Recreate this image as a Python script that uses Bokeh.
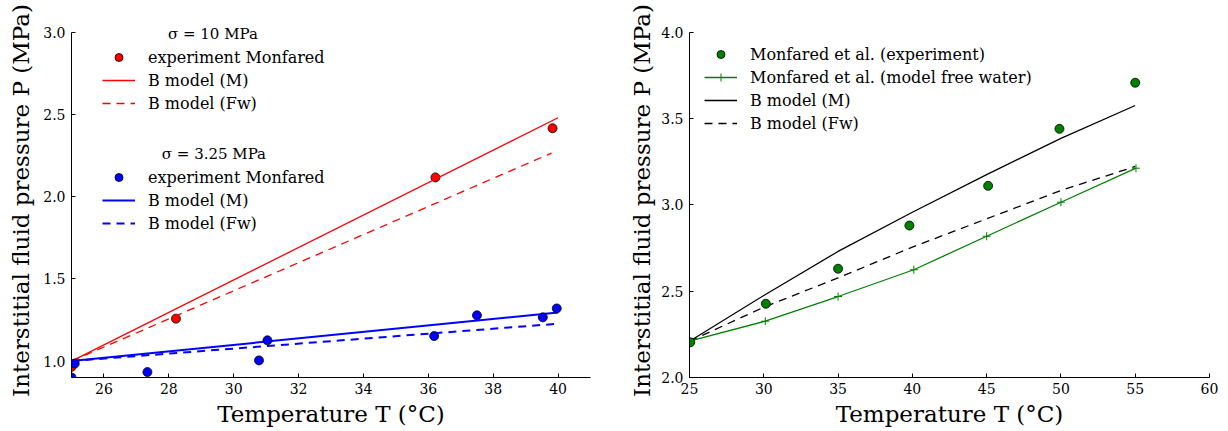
from bokeh.plotting import figure
from bokeh.layouts import row
from bokeh.models import Legend, LegendItem, FixedTicker, NumeralTickFormatter, Label, Range1d
from bokeh.embed import file_html
from bokeh.resources import INLINE

FONT = "DejaVu Serif"

# ---------- left panel data ----------
red_exp_T = [25.0, 28.22, 36.22, 39.83]
red_exp_P = [0.965, 1.258, 2.117, 2.416]
red_M_T = [25.0, 40.0]
red_M_P = [1.0, 2.48]
red_Fw_T = [25.0, 39.8]
red_Fw_P = [1.0, 2.265]

blue_exp_T = [25.0, 25.1, 27.34, 30.78, 31.04, 36.18, 37.5, 39.53, 39.96]
blue_exp_P = [0.90, 0.985, 0.933, 1.004, 1.126, 1.152, 1.278, 1.266, 1.32]
blue_M_T = [25.0, 40.0]
blue_M_P = [1.0, 1.295]
blue_Fw_T = [25.0, 40.0]
blue_Fw_P = [1.0, 1.227]

left_xticks = [26, 28, 30, 32, 34, 36, 38, 40]
left_yticks = [1.0, 1.5, 2.0, 2.5, 3.0]

# ---------- right panel data ----------
g_exp_T = [25.05, 30.14, 35.0, 39.8, 45.1, 49.9, 55.0]
g_exp_P = [2.204, 2.427, 2.63, 2.88, 3.11, 3.44, 3.707]
g_mod_T = [25.0, 30.1, 35.0, 40.1, 45.0, 50.0, 55.05]
g_mod_P = [2.21, 2.326, 2.469, 2.624, 2.818, 3.015, 3.212]
bM_T = [25, 30, 35, 40, 45, 50, 55]
bM_P = [2.21, 2.475, 2.73, 2.957, 3.175, 3.385, 3.575]
bFw_T = [25, 30, 35, 40, 45, 50, 55]
bFw_P = [2.21, 2.407, 2.577, 2.755, 2.919, 3.083, 3.222]

right_xticks = [25, 30, 35, 40, 45, 50, 55, 60]
right_yticks = [2.0, 2.5, 3.0, 3.5, 4.0]

XLABEL = "Temperature T (°C)"
YLABEL = "Interstitial fluid pressure P (MPa)"
DASH = "8 6"


def style(p, xticks, yticks, ylabel_standoff, ybounds):
    p.outline_line_color = None
    p.xgrid.visible = False
    p.ygrid.visible = False
    p.background_fill_color = "white"
    p.border_fill_color = "white"
    for ax in (p.xaxis[0], p.yaxis[0]):
        ax.axis_line_color = "black"
        ax.axis_line_width = 1
        ax.major_tick_in = 4
        ax.major_tick_out = 0
        ax.minor_tick_line_color = None
        ax.major_tick_line_color = "black"
        ax.major_label_text_font = FONT
        ax.major_label_text_font_size = "14px"
        ax.major_label_text_color = "black"
        ax.axis_label_text_font = FONT
        ax.axis_label_text_font_size = "23px"
        ax.axis_label_text_font_style = "normal"
        ax.axis_label_text_color = "black"
        ax.major_label_standoff = 6
    p.xaxis.ticker = FixedTicker(ticks=xticks)
    p.yaxis.ticker = FixedTicker(ticks=yticks)
    p.yaxis.formatter = NumeralTickFormatter(format="0.0")
    p.yaxis.bounds = ybounds
    p.xaxis.axis_label = XLABEL
    p.yaxis.axis_label = YLABEL
    p.xaxis.major_label_standoff = 5
    p.xaxis.axis_label_standoff = 4
    p.yaxis.axis_label_standoff = ylabel_standoff


def make_legend(items, vx, vy):
    lg = Legend(items=items, location=(vx, vy))
    lg.glyph_width = 33
    lg.glyph_height = 20
    lg.label_height = 20
    lg.label_standoff = 13
    lg.spacing = 3
    lg.padding = 0
    lg.margin = 0
    lg.border_line_color = None
    lg.background_fill_alpha = 0
    lg.label_text_font = FONT
    lg.label_text_font_size = "16px"
    lg.label_text_color = "black"
    return lg


# ---------- left figure ----------
p1 = figure(width=600, height=431, output_backend="svg", toolbar_location=None,
            x_range=Range1d(25, 41), y_range=Range1d(0.9, 3.053),
            min_border_left=71, min_border_right=10, min_border_top=23, min_border_bottom=54)
style(p1, left_xticks, left_yticks, 6, (0.9, 3.0))

r_red_exp = p1.scatter(red_exp_T, red_exp_P, marker="circle", size=9, fill_color="#ff0000",
                       line_color="black", line_width=0.8)
r_red_M = p1.line(red_M_T, red_M_P, line_color="#ff0000", line_width=1.3)
r_red_Fw = p1.line(red_Fw_T, red_Fw_P, line_color="#ff0000", line_width=1.3, line_dash=DASH)
r_blue_M = p1.line(blue_M_T, blue_M_P, line_color="#0000ff", line_width=2)
r_blue_Fw = p1.line(blue_Fw_T, blue_Fw_P, line_color="#0000ff", line_width=2, line_dash=DASH)
r_blue_exp = p1.scatter(blue_exp_T, blue_exp_P, marker="circle", size=9, fill_color="#0000ff",
                        line_color="black", line_width=0.8)

lg1 = make_legend([
    LegendItem(label="experiment Monfared", renderers=[r_red_exp]),
    LegendItem(label="B model (M)", renderers=[r_red_M]),
    LegendItem(label="B model (Fw)", renderers=[r_red_Fw]),
], 31, 264)
lg2 = make_legend([
    LegendItem(label="experiment Monfared", renderers=[r_blue_exp]),
    LegendItem(label="B model (M)", renderers=[r_blue_M]),
    LegendItem(label="B model (Fw)", renderers=[r_blue_Fw]),
], 31, 144)
p1.add_layout(lg1, "center")
p1.add_layout(lg2, "center")

for txt, lx, ly in [("σ = 10 MPa", 29.36, 2.99), ("σ = 3.25 MPa", 29.39, 2.26)]:
    p1.add_layout(Label(x=lx, y=ly, text=txt, text_font=FONT, text_font_size="15px",
                        text_align="center", text_baseline="middle", text_color="black"))

# ---------- right figure ----------
p2 = figure(width=620, height=431, output_backend="svg", toolbar_location=None,
            x_range=Range1d(25, 60), y_range=Range1d(2.0, 4.05),
            min_border_left=89, min_border_right=11, min_border_top=23, min_border_bottom=54)
style(p2, right_xticks, right_yticks, 3, (2.0, 4.0))

r_bM = p2.line(bM_T, bM_P, line_color="black", line_width=1.3)
r_bFw = p2.line(bFw_T, bFw_P, line_color="black", line_width=1.3, line_dash=DASH)
r_gmod_l = p2.line(g_mod_T, g_mod_P, line_color="#008000", line_width=1.3)
r_gmod_m = p2.scatter(g_mod_T, g_mod_P, marker="cross", size=8, line_color="#008000", line_width=1)
r_gexp = p2.scatter(g_exp_T, g_exp_P, marker="circle", size=9, fill_color="#008000",
                    line_color="black", line_width=0.8)

lg3 = make_legend([
    LegendItem(label="Monfared et al. (experiment)", renderers=[r_gexp]),
    LegendItem(label="Monfared et al. (model free water)", renderers=[r_gmod_l, r_gmod_m]),
    LegendItem(label="B model (M)", renderers=[r_bM]),
    LegendItem(label="B model (Fw)", renderers=[r_bFw]),
], 15, 244)
p2.add_layout(lg3, "center")

layout = row(p1, p2)
open("out.html", "w").write(file_html(layout, INLINE))
